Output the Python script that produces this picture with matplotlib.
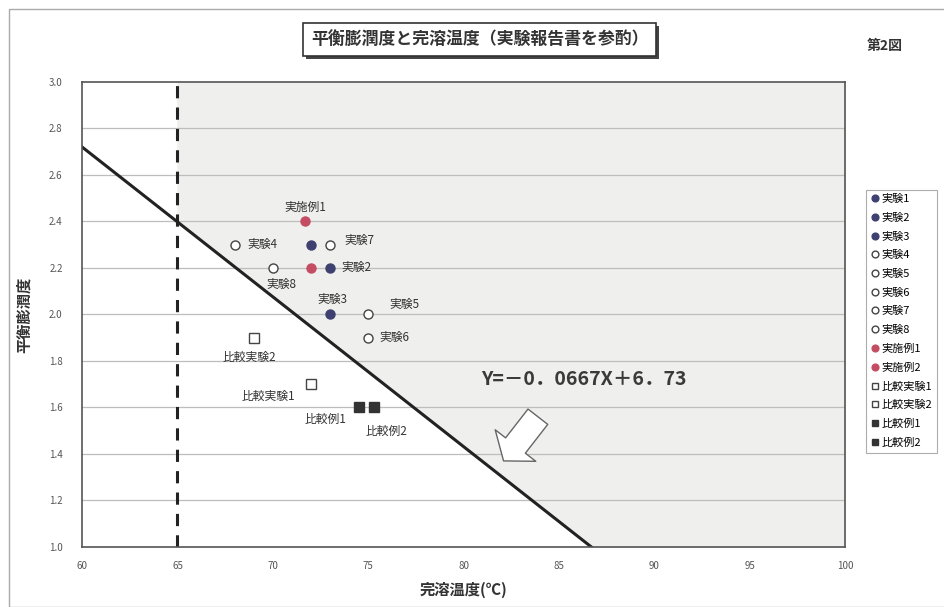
import numpy as np
import matplotlib as mpl
import matplotlib.pyplot as plt
from matplotlib.patches import Rectangle

mpl.rcParams['font.family'] = ['Noto Sans CJK JP', 'DejaVu Sans']

# data
names = ['実験1', '実験2', '実験3', '実験4', '実験5', '実験6', '実験7', '実験8',
         '実施例1', '実施例2', '比較実験1', '比較実験2', '比較例1', '比較例2']
temp = [72.0, 73.0, 73.0, 68.0, 75.0, 75.0, 73.0, 70.0,
        71.7, 72.0, 72.0, 69.0, 74.5, 75.3]
swell = [2.3, 2.2, 2.0, 2.3, 2.0, 1.9, 2.3, 2.2,
         2.4, 2.2, 1.7, 1.9, 1.6, 1.6]
# label offsets (points) of the label centre from its point; None = no label
label_off = [None, (19, 0), (2, 11), (20, 0), (26, 7), (19, 0), (21, 3), (6, -12),
             (0, 10), None, (-31, -9), (-3, -14), (-24, -9), (9, -17)]
kinds = ['navy'] * 3 + ['open'] * 5 + ['red'] * 2 + ['osq'] * 2 + ['fsq'] * 2

# boundary line as drawn (through 65 / 2.4) and its quoted formula
line_x = [60.0, 86.7]
line_y = [2.72, 1.0]
formula = 'Y=－0．0667X＋6．73'

xticks = [60, 65, 70, 75, 80, 85, 90, 95, 100]
yticks = [1.0, 1.2, 1.4, 1.6, 1.8, 2.0, 2.2, 2.4, 2.6, 2.8, 3.0]

styles = {
    'navy': dict(marker='o', color='#3e4170', mec='#3e4170'),
    'open': dict(marker='o', color='white', mec='#444444'),
    'red': dict(marker='o', color='#c44d63', mec='#c44d63'),
    'osq': dict(marker='s', color='white', mec='#444444'),
    'fsq': dict(marker='s', color='#333333', mec='#333333'),
}

fig = plt.figure(figsize=(9.44, 6.07), dpi=100)
ax = fig.add_axes([0.087, 0.099, 0.808, 0.766])

# shaded area right of the boundary line, beyond x = 65
k = (line_y[1] - line_y[0]) / (line_x[1] - line_x[0])
xs = np.linspace(65, 100, 300)
ax.fill_between(xs, np.maximum(line_y[0] + k * (xs - line_x[0]), 1.0), 3.0,
                color='#efefed', zorder=0)

for y in yticks[1:-1]:
    ax.axhline(y, color='#bdbdbd', linewidth=0.9, zorder=1)

ax.axvline(65, color='#222222', linewidth=2.2, linestyle=(0, (4, 3)), zorder=2)
ax.plot(line_x, line_y, color='#222222', linewidth=2.2, zorder=2)

for n, x, y, kd, off in zip(names, temp, swell, kinds, label_off):
    st = styles[kd]
    ax.plot([x], [y], linestyle='none', marker=st['marker'], markersize=6.5,
            markerfacecolor=st['color'], markeredgecolor=st['mec'],
            markeredgewidth=1.0, label=n, zorder=4)
    if off is not None:
        ax.annotate(n, (x, y), xytext=off, textcoords='offset points',
                    fontsize=8.5, color='#333333', va='center', ha='center')

ax.text(86.3, 1.72, formula, fontsize=14, fontweight='bold', color='#3a3a3a',
        ha='center', va='center')
ax.annotate('', xy=(82.1, 1.37), xytext=(83.9, 1.56),
            arrowprops=dict(arrowstyle='simple,head_length=1.4,head_width=3.7,tail_width=1.8',
                            mutation_scale=10, shrinkA=0, shrinkB=0,
                            fc='white', ec='#666666', lw=1.0))

ax.set_xlim(60, 100)
ax.set_ylim(1.0, 3.0)
ax.set_xticks(xticks)
ax.set_yticks(yticks)
ax.set_yticklabels(['%.1f' % v for v in yticks])
ax.tick_params(labelsize=7, colors='#555555', length=0)
ax.tick_params(axis='y', pad=14)
ax.tick_params(axis='x', pad=10)
for s in ax.spines.values():
    s.set_color('#555555')
    s.set_linewidth(1.2)

ax.set_xlabel('完溶温度(℃)', fontsize=11, fontweight='bold', color='#333333', labelpad=8)
ax.set_ylabel('平衡膨潤度', fontsize=11, fontweight='bold', color='#333333', labelpad=12)

leg = ax.legend(loc='upper left', bbox_to_anchor=(1.028, 0.768), fontsize=8,
                frameon=True, fancybox=False, edgecolor='#999999',
                handletextpad=0.2, handlelength=0.8, labelspacing=0.78,
                borderaxespad=0, markerscale=0.75)
leg.get_frame().set_linewidth(0.8)

title = '平衡膨潤度と完溶温度（実験報告書を参酌）'
ttl = fig.text(0.508, 0.935, title, fontsize=12.2, fontweight='bold', color='#333333',
               ha='center', va='center', zorder=3,
               bbox=dict(boxstyle='square,pad=0.45', fc='white', ec='#333333', lw=1.2))
fig.text(0.937, 0.925, '第2図', fontsize=10, fontweight='bold', color='#333333',
         ha='center', va='center')

# drop shadow behind the title box
fig.canvas.draw()
bb = ttl.get_bbox_patch().get_window_extent().transformed(fig.transFigure.inverted())
fig.patches.append(Rectangle((bb.x0 + 0.003, bb.y0 - 0.005), bb.width, bb.height,
                             transform=fig.transFigure, fc='#444444', ec='none', zorder=1))

fig.patches.append(Rectangle((0.01, 0.0), 1.2, 0.985, transform=fig.transFigure,
                             fill=False, ec='#aaaaaa', lw=1.0))

fig.savefig('out.png', dpi=100)
